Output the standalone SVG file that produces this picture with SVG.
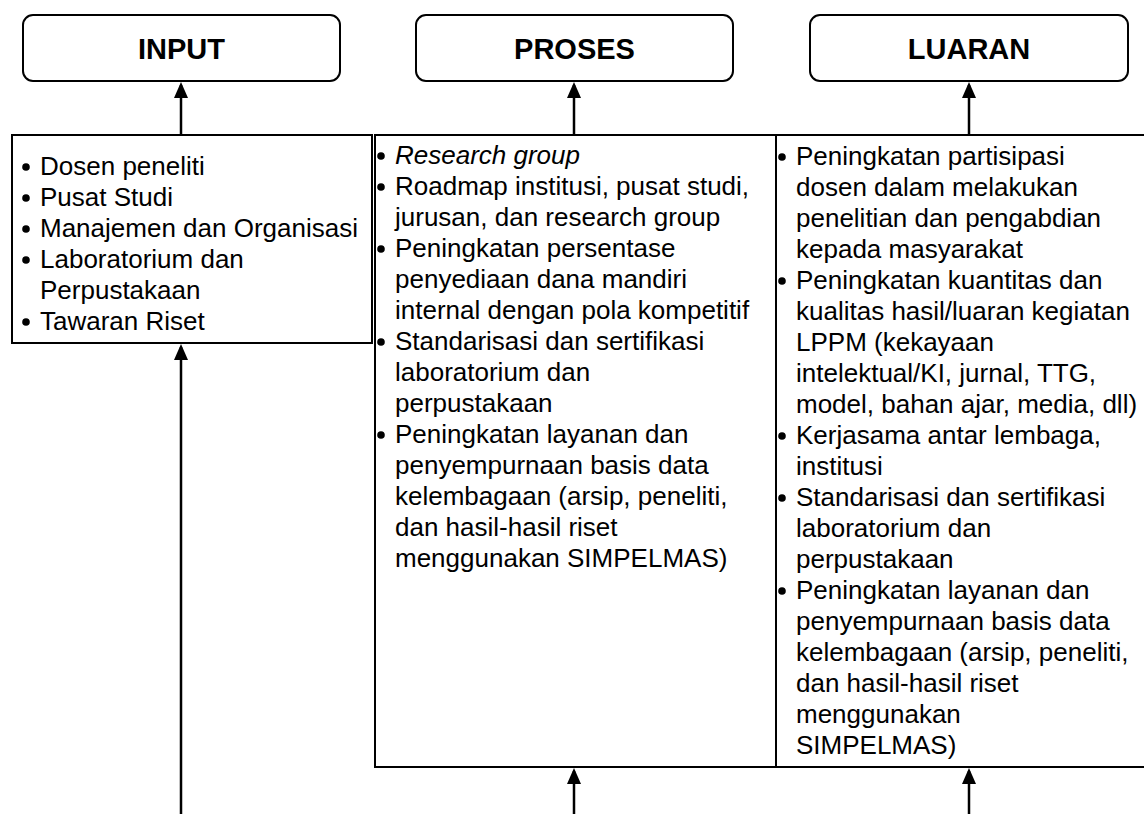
<svg xmlns="http://www.w3.org/2000/svg" width="1144" height="814" viewBox="0 0 1144 814">
<defs>
<style>
.hdr{fill:#fff;stroke:#000;stroke-width:2}
.ttl{font-family:"Liberation Sans",Arial,sans-serif;font-size:29px;font-weight:bold;fill:#000;text-anchor:middle}
.txt{font-family:"Liberation Sans",Arial,sans-serif;font-size:26px;fill:#000}
.frm{fill:none;stroke:#000;stroke-width:2}
.con{stroke:#000;stroke-width:2.5;fill:none;marker-end:url(#ah)}
.bul{fill:#000}
</style>
<marker id="ah" markerUnits="userSpaceOnUse" viewBox="0 0 16 14" markerWidth="16" markerHeight="14" refX="13" refY="7" orient="auto">
<path d="M0,0 L16,7 L0,14 z" fill="#000"/>
</marker>
</defs>
<rect width="1144" height="814" fill="#fff"/>

<g id="input-header">
<rect class="hdr" x="23" y="15" width="317" height="66" rx="10"/>
<text class="ttl" x="181.5" y="58.5">INPUT</text>
</g>
<g id="proses-header">
<rect class="hdr" x="416" y="15" width="317" height="66" rx="10"/>
<text class="ttl" x="574.5" y="58.5">PROSES</text>
</g>
<g id="luaran-header">
<rect class="hdr" x="810" y="15" width="318" height="66" rx="10"/>
<text class="ttl" x="969" y="58.5">LUARAN</text>
</g>

<g id="input-box">
<rect class="frm" x="12" y="135" width="360" height="208" stroke-width="2.5"/>
<g class="bul">
<circle cx="26" cy="167" r="3.8"/>
<circle cx="26" cy="198" r="3.8"/>
<circle cx="26" cy="229" r="3.8"/>
<circle cx="26" cy="260" r="3.8"/>
<circle cx="26" cy="322" r="3.8"/>
</g>
<text class="txt">
<tspan x="40" y="175">Dosen peneliti</tspan>
<tspan x="40" y="206">Pusat Studi</tspan>
<tspan x="40" y="237">Manajemen dan Organisasi</tspan>
<tspan x="40" y="268">Laboratorium dan</tspan>
<tspan x="40" y="299">Perpustakaan</tspan>
<tspan x="40" y="330">Tawaran Riset</tspan>
</text>
</g>

<g id="proses-box">
<path class="frm" d="M375,135 V767 H776 V135 Z"/>
<g class="bul">
<circle cx="381" cy="156" r="3.8"/>
<circle cx="381" cy="187" r="3.8"/>
<circle cx="381" cy="249" r="3.8"/>
<circle cx="381" cy="342" r="3.8"/>
<circle cx="381" cy="435" r="3.8"/>
</g>
<text class="txt">
<tspan x="395" y="164" font-style="italic">Research group</tspan>
<tspan x="395" y="195">Roadmap institusi, pusat studi,</tspan>
<tspan x="395" y="226">jurusan, dan research group</tspan>
<tspan x="395" y="257">Peningkatan persentase</tspan>
<tspan x="395" y="288">penyediaan dana mandiri</tspan>
<tspan x="395" y="319">internal dengan pola kompetitif</tspan>
<tspan x="395" y="350">Standarisasi dan sertifikasi</tspan>
<tspan x="395" y="381">laboratorium dan</tspan>
<tspan x="395" y="412">perpustakaan</tspan>
<tspan x="395" y="443">Peningkatan layanan dan</tspan>
<tspan x="395" y="474">penyempurnaan basis data</tspan>
<tspan x="395" y="505">kelembagaan (arsip, peneliti,</tspan>
<tspan x="395" y="536">dan hasil-hasil riset</tspan>
<tspan x="395" y="567">menggunakan SIMPELMAS)</tspan>
</text>
</g>

<g id="luaran-box">
<path class="frm" d="M776,135 H1144 M776,767 H1144"/>
<g class="bul">
<circle cx="782" cy="157" r="3.8"/>
<circle cx="782" cy="281" r="3.8"/>
<circle cx="782" cy="436" r="3.8"/>
<circle cx="782" cy="498" r="3.8"/>
<circle cx="782" cy="591" r="3.8"/>
</g>
<text class="txt">
<tspan x="796" y="165">Peningkatan partisipasi</tspan>
<tspan x="796" y="196">dosen dalam melakukan</tspan>
<tspan x="796" y="227">penelitian dan pengabdian</tspan>
<tspan x="796" y="258">kepada masyarakat</tspan>
<tspan x="796" y="289">Peningkatan kuantitas dan</tspan>
<tspan x="796" y="320">kualitas hasil/luaran kegiatan</tspan>
<tspan x="796" y="351">LPPM (kekayaan</tspan>
<tspan x="796" y="382">intelektual/KI, jurnal, TTG,</tspan>
<tspan x="796" y="413">model, bahan ajar, media, dll)</tspan>
<tspan x="796" y="444">Kerjasama antar lembaga,</tspan>
<tspan x="796" y="475">institusi</tspan>
<tspan x="796" y="506">Standarisasi dan sertifikasi</tspan>
<tspan x="796" y="537">laboratorium dan</tspan>
<tspan x="796" y="568">perpustakaan</tspan>
<tspan x="796" y="599">Peningkatan layanan dan</tspan>
<tspan x="796" y="630">penyempurnaan basis data</tspan>
<tspan x="796" y="661">kelembagaan (arsip, peneliti,</tspan>
<tspan x="796" y="692">dan hasil-hasil riset</tspan>
<tspan x="796" y="723">menggunakan</tspan>
<tspan x="796" y="754">SIMPELMAS)</tspan>
</text>
</g>

<g id="connectors">
<line class="con" x1="181" y1="135" x2="181" y2="85"/>
<line class="con" x1="574" y1="135" x2="574" y2="85"/>
<line class="con" x1="969" y1="135" x2="969" y2="85"/>
<line class="con" x1="181" y1="814" x2="181" y2="347"/>
<line class="con" x1="574" y1="814" x2="574" y2="771"/>
<line class="con" x1="969" y1="814" x2="969" y2="771"/>
</g>
</svg>
